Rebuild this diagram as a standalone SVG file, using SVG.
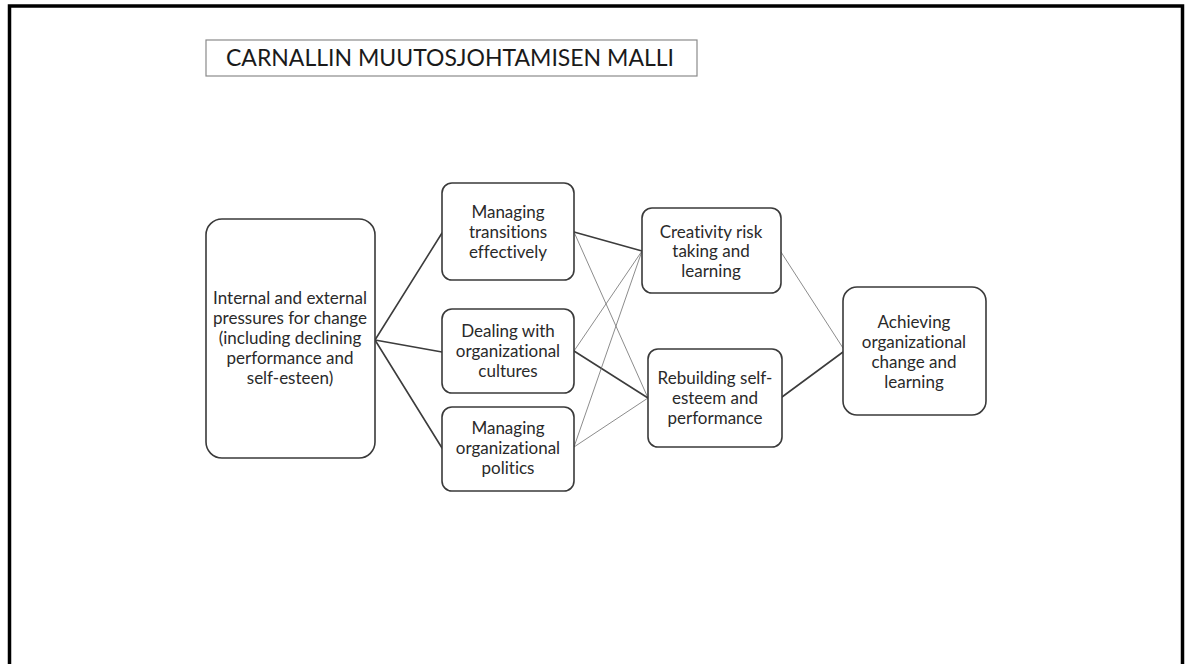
<svg xmlns="http://www.w3.org/2000/svg" width="1188" height="664" viewBox="0 0 1188 664">
  <style>
    .frame { fill: none; stroke: #000; stroke-width: 3.5; }
    .title-box { fill: #fff; stroke: #8a8a8a; stroke-width: 1.2; }
    .title { font-family: Lato, "Liberation Sans", sans-serif; font-size: 23px; fill: #1a1a1a; text-anchor: middle; }
    .node rect { fill: #fff; stroke: #3a3a3a; stroke-width: 1.6; }
    .node text { font-family: Lato, "Liberation Sans", sans-serif; font-size: 17px; fill: #2a2a2a; text-anchor: middle; font-variant-ligatures: none; }
    .link { fill: none; stroke-linecap: round; }
    .strong { stroke: #3c3c3c; stroke-width: 1.6; }
    .weak { stroke: #6e6e6e; stroke-width: 0.8; }
  </style>

  <rect x="0" y="0" width="1188" height="664" fill="#fff"/>

  <!-- outer slide frame (open at the bottom) -->
  <path class="frame" d="M9.5,664 V6 H1182.5 V664"/>

  <!-- heading -->
  <g id="title">
    <rect class="title-box" x="206" y="40" width="491" height="36"/>
    <text class="title" x="450" y="66">CARNALLIN MUUTOSJOHTAMISEN MALLI</text>
  </g>

  <!-- connectors -->
  <g id="connectors">
    <line class="link strong" x1="375" y1="340" x2="442" y2="233"/>
    <line class="link strong" x1="375" y1="340" x2="442" y2="352"/>
    <line class="link strong" x1="375" y1="340" x2="442" y2="448"/>

    <line class="link strong" x1="574" y1="232" x2="642" y2="251"/>
    <line class="link weak" x1="574" y1="232" x2="648" y2="398"/>
    <line class="link weak" x1="574" y1="351" x2="642" y2="251"/>
    <line class="link strong" x1="574" y1="351" x2="648" y2="398"/>
    <line class="link weak" x1="574" y1="447" x2="642" y2="251"/>
    <line class="link weak" x1="574" y1="447" x2="648" y2="398"/>

    <line class="link weak" x1="781" y1="252" x2="843" y2="348"/>
    <line class="link strong" x1="782" y1="397" x2="843" y2="352"/>
  </g>

  <!-- nodes -->
  <g id="pressures" class="node">
    <rect x="206" y="219" width="169" height="239" rx="16"/>
    <text x="290" y="304">Internal and external</text>
    <text x="290" y="324">pressures for change</text>
    <text x="290" y="344">(including declining</text>
    <text x="290" y="364">performance and</text>
    <text x="290" y="384">self-esteen)</text>
  </g>

  <g id="transitions" class="node">
    <rect x="442" y="183" width="132" height="97" rx="10"/>
    <text x="508" y="218">Managing</text>
    <text x="508" y="238">transitions</text>
    <text x="508" y="258">effectively</text>
  </g>

  <g id="cultures" class="node">
    <rect x="442" y="309" width="132" height="84" rx="10"/>
    <text x="508" y="337">Dealing with</text>
    <text x="508" y="357">organizational</text>
    <text x="508" y="377">cultures</text>
  </g>

  <g id="politics" class="node">
    <rect x="442" y="407" width="132" height="84" rx="10"/>
    <text x="508" y="434">Managing</text>
    <text x="508" y="454">organizational</text>
    <text x="508" y="474">politics</text>
  </g>

  <g id="creativity" class="node">
    <rect x="642" y="208" width="139" height="85" rx="10"/>
    <text x="711" y="238">Creativity risk</text>
    <text x="711" y="257">taking and</text>
    <text x="711" y="277">learning</text>
  </g>

  <g id="rebuilding" class="node">
    <rect x="648" y="349" width="134" height="98" rx="10"/>
    <text x="715" y="384">Rebuilding self-</text>
    <text x="715" y="404">esteem and</text>
    <text x="715" y="424">performance</text>
  </g>

  <g id="achieving" class="node">
    <rect x="843" y="287" width="143" height="128" rx="14"/>
    <text x="914" y="328">Achieving</text>
    <text x="914" y="348">organizational</text>
    <text x="914" y="368">change and</text>
    <text x="914" y="388">learning</text>
  </g>
</svg>
